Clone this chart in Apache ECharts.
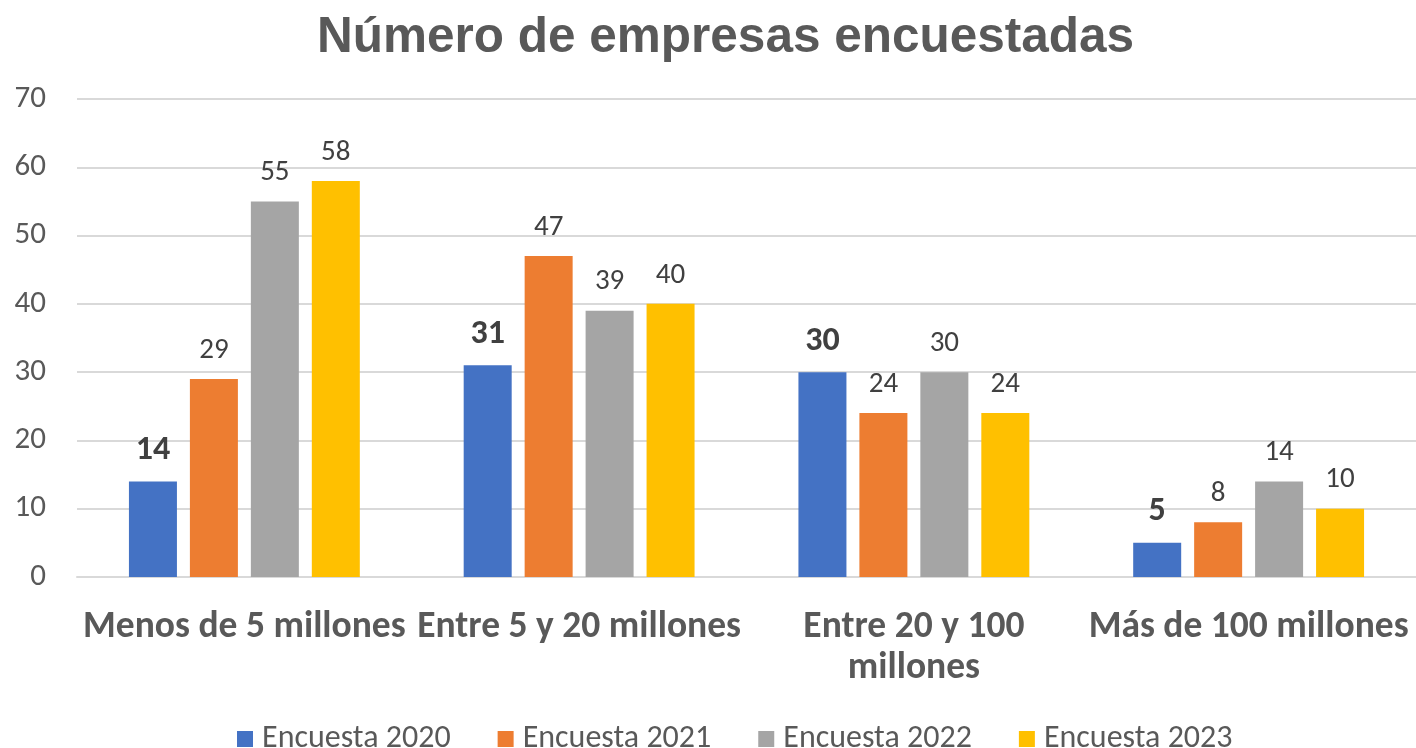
<!DOCTYPE html>
<html>
<head>
<meta charset="utf-8">
<title>Número de empresas encuestadas</title>
<script src="https://cdn.jsdelivr.net/npm/echarts@6/dist/echarts.min.js"></script>
<style>
  html, body { margin: 0; padding: 0; background: #fff; }
  #chart { width: 1416px; height: 748px; }
</style>
</head>
<body>
<div id="chart"></div>
<script>
// datos del gráfico
const categories = ['Menos de 5 millones', 'Entre 5 y 20 millones', 'Entre 20 y 100 millones', 'Más de 100 millones'];
const seriesNames = ['Encuesta 2020', 'Encuesta 2021', 'Encuesta 2022', 'Encuesta 2023'];
const encuesta2020 = [14, 31, 30, 5];
const encuesta2021 = [29, 47, 24, 8];
const encuesta2022 = [55, 39, 30, 14];
const encuesta2023 = [58, 40, 24, 10];
const colors = ['#4472C4', '#ED7D31', '#A5A5A5', '#FFC000'];

const font = 'Calibri, Carlito, "Open Sans", "Noto Sans", sans-serif';
const titleFont = 'Arial, "Liberation Sans", sans-serif';
const values = [encuesta2020, encuesta2021, encuesta2022, encuesta2023];

const chart = echarts.init(document.getElementById('chart'), null, { renderer: 'canvas' });

chart.setOption({
  animation: false,
  color: colors,
  title: {
    text: 'Número de empresas encuestadas',
    left: 312,
    top: 8,
    textStyle: { fontFamily: titleFont, fontSize: 49.5, fontWeight: 'bold', color: '#595959' }
  },
  legend: {
    top: 718,
    left: 232,
    itemWidth: 16,
    itemHeight: 16,
    itemGap: 47,
    icon: 'rect',
    textStyle: { fontFamily: font, fontSize: 32, color: '#595959', padding: [0, 0, 0, 4] },
    data: seriesNames
  },
  grid: { left: 77, right: 0, top: 99, bottom: 171 },
  xAxis: {
    type: 'category',
    data: categories,
    axisTick: { show: false },
    axisLine: { lineStyle: { color: '#D9D9D9', width: 2 } },
    axisLabel: {
      interval: 0,
      margin: 30,
      fontFamily: font,
      fontSize: 37.5,
      fontWeight: 'bold',
      color: '#595959',
      lineHeight: 41,
      formatter: (v) => v === 'Entre 20 y 100 millones' ? 'Entre 20 y 100\nmillones' : v
    }
  },
  yAxis: {
    type: 'value',
    min: 0,
    max: 70,
    interval: 10,
    axisLine: { show: false },
    axisTick: { show: false },
    axisLabel: { fontFamily: font, fontSize: 31, color: '#595959', margin: 31 },
    splitLine: { lineStyle: { color: '#D9D9D9', width: 2 } }
  },
  series: seriesNames.map((name, i) => ({
    name,
    type: 'bar',
    data: values[i],
    barWidth: 48,
    barGap: '27%',
    label: {
      show: true,
      position: 'top',
      distance: 14,
      fontFamily: font,
      fontSize: i === 0 ? 34 : 29,
      fontWeight: i === 0 ? 'bold' : 'normal',
      color: '#404040'
    }
  }))
});
</script>
</body>
</html>
